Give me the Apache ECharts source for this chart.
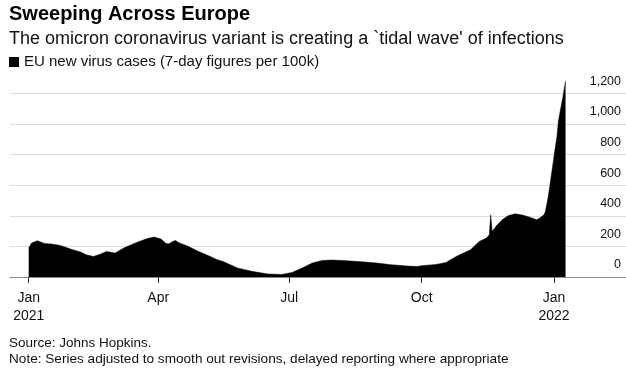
<!DOCTYPE html>
<html>
<head>
<meta charset="utf-8">
<script src="https://cdn.jsdelivr.net/npm/echarts@6/dist/echarts.min.js"></script>
<style>
html,body{margin:0;padding:0;background:#fff;}
#chart{width:626px;height:383px;}
</style>
</head>
<body>
<div id="chart"></div>
<script>
const titleText = 'Sweeping Across Europe';
const subtitleText = 'The omicron coronavirus variant is creating a `tidal wave\' of infections';
const seriesName = 'EU new virus cases (7-day figures per 100k)';
const sourceText = 'Source: Johns Hopkins.';
const noteText = 'Note: Series adjusted to smooth out revisions, delayed reporting where appropriate';

const dates = [
 '2021-01-01','2021-01-03','2021-01-07','2021-01-12','2021-01-17','2021-01-23','2021-01-30',
 '2021-02-06','2021-02-10','2021-02-15','2021-02-20','2021-02-24','2021-03-02','2021-03-08',
 '2021-03-17','2021-03-24','2021-03-29','2021-04-03','2021-04-06','2021-04-08','2021-04-11',
 '2021-04-13','2021-04-15','2021-04-22','2021-04-29','2021-05-06','2021-05-12','2021-05-16',
 '2021-05-26','2021-06-05','2021-06-16','2021-06-26','2021-07-03','2021-07-10','2021-07-17',
 '2021-07-24','2021-07-31','2021-08-10','2021-08-20','2021-08-31','2021-09-10','2021-09-21',
 '2021-09-28','2021-10-01','2021-10-11','2021-10-18','2021-10-25','2021-10-30','2021-11-04',
 '2021-11-10','2021-11-15','2021-11-17','2021-11-18','2021-11-19','2021-11-22','2021-11-26',
 '2021-11-30','2021-12-05','2021-12-10','2021-12-15','2021-12-16','2021-12-20','2021-12-22',
 '2021-12-25','2021-12-26','2021-12-28','2021-12-30','2022-01-01','2022-01-03','2022-01-04',
 '2022-01-05','2022-01-07','2022-01-09'
];
const cases = [
 189,222,237,219,215,206,183,
 163,145,134,150,167,156,189,
 226,250,261,248,222,215,232,
 239,226,200,167,139,113,102,
 59,37,20,17,30,59,91,
 108,111,106,100,91,80,72,
 69,74,82,95,134,156,178,
 232,254,276,406,297,335,374,
 400,413,405,391,380,374,385,
 406,428,526,656,790,917,1015,
 1070,1168,1282
];

const xTickDates = ['2021-01-01','2021-04-01','2021-07-01','2021-10-01','2022-01-01'];
const xTickLabels = ['Jan\n2021','Apr','Jul','Oct','Jan\n2022'];
const yTicks = [0,200,400,600,800,1000,1200];

const FONT = '"Liberation Sans", Arial, Helvetica, sans-serif';
const ts = s => Date.UTC(+s.slice(0,4), +s.slice(5,7) - 1, +s.slice(8,10));
const tickTs = xTickDates.map(ts);

const chart = echarts.init(document.getElementById('chart'), null, {renderer:'canvas'});
chart.setOption({
  animation: false,
  backgroundColor: '#fff',
  textStyle: {fontFamily: FONT},
  title: [
    {text: titleText, left: 9, top: 4, padding: 0,
     textStyle: {fontSize: 20, fontWeight: 'bold', color: '#000', lineHeight: 20, fontFamily: FONT}},
    {text: subtitleText, left: 9, top: 30, padding: 0,
     textStyle: {fontSize: 18, fontWeight: 'normal', color: '#111', lineHeight: 18, fontFamily: FONT}},
    {text: sourceText, left: 9, top: 336, padding: 0,
     textStyle: {fontSize: 13.5, fontWeight: 'normal', color: '#111', lineHeight: 14, fontFamily: FONT}},
    {text: noteText, left: 9, top: 352, padding: 0,
     textStyle: {fontSize: 13.6, fontWeight: 'normal', color: '#111', lineHeight: 14, fontFamily: FONT}}
  ],
  legend: {
    left: 9, top: 54, padding: 0,
    icon: 'rect', itemWidth: 10, itemHeight: 10, itemGap: 5,
    textStyle: {fontSize: 15, color: '#111', lineHeight: 16, fontFamily: FONT},
    data: [seriesName]
  },
  grid: {left: 10, right: 0, top: 78, bottom: 106, containLabel: false},
  xAxis: {
    type: 'value',
    min: Date.UTC(2020, 11, 19),
    max: Date.UTC(2022, 1, 20),
    axisLine: {show: true, lineStyle: {color: '#8a8a8a', width: 1}},
    axisTick: {show: true, length: 6, lineStyle: {color: '#333', width: 1}, customValues: tickTs},
    axisLabel: {
      customValues: tickTs,
      margin: 12, fontSize: 14, lineHeight: 18, color: '#111', fontFamily: FONT,
      formatter: function (v) {
        const i = tickTs.indexOf(v);
        return i >= 0 ? xTickLabels[i] : '';
      }
    },
    splitLine: {show: false}
  },
  yAxis: {
    type: 'value', position: 'right',
    min: 0, max: 1300, interval: 200,
    axisLine: {show: false},
    axisTick: {show: false},
    splitLine: {show: true, showMinLine: false, showMaxLine: false, lineStyle: {color: '#dedede', width: 1}},
    axisLabel: {
      inside: true, margin: 5, showMaxLabel: false,
      fontSize: 12.5, color: '#111', fontFamily: FONT,
      verticalAlign: 'bottom', lineHeight: 14, padding: [0,0,5,0],
      formatter: function (v) {
        return yTicks.indexOf(v) >= 0 ? v.toLocaleString('en-US') : '';
      }
    }
  },
  series: [{
    name: seriesName,
    type: 'line',
    data: dates.map((d, i) => [ts(d), cases[i]]),
    symbol: 'none',
    showSymbol: false,
    lineStyle: {color: '#000', width: 0.5},
    itemStyle: {color: '#000'},
    areaStyle: {color: '#000', opacity: 1}
  }]
});
</script>
</body>
</html>
